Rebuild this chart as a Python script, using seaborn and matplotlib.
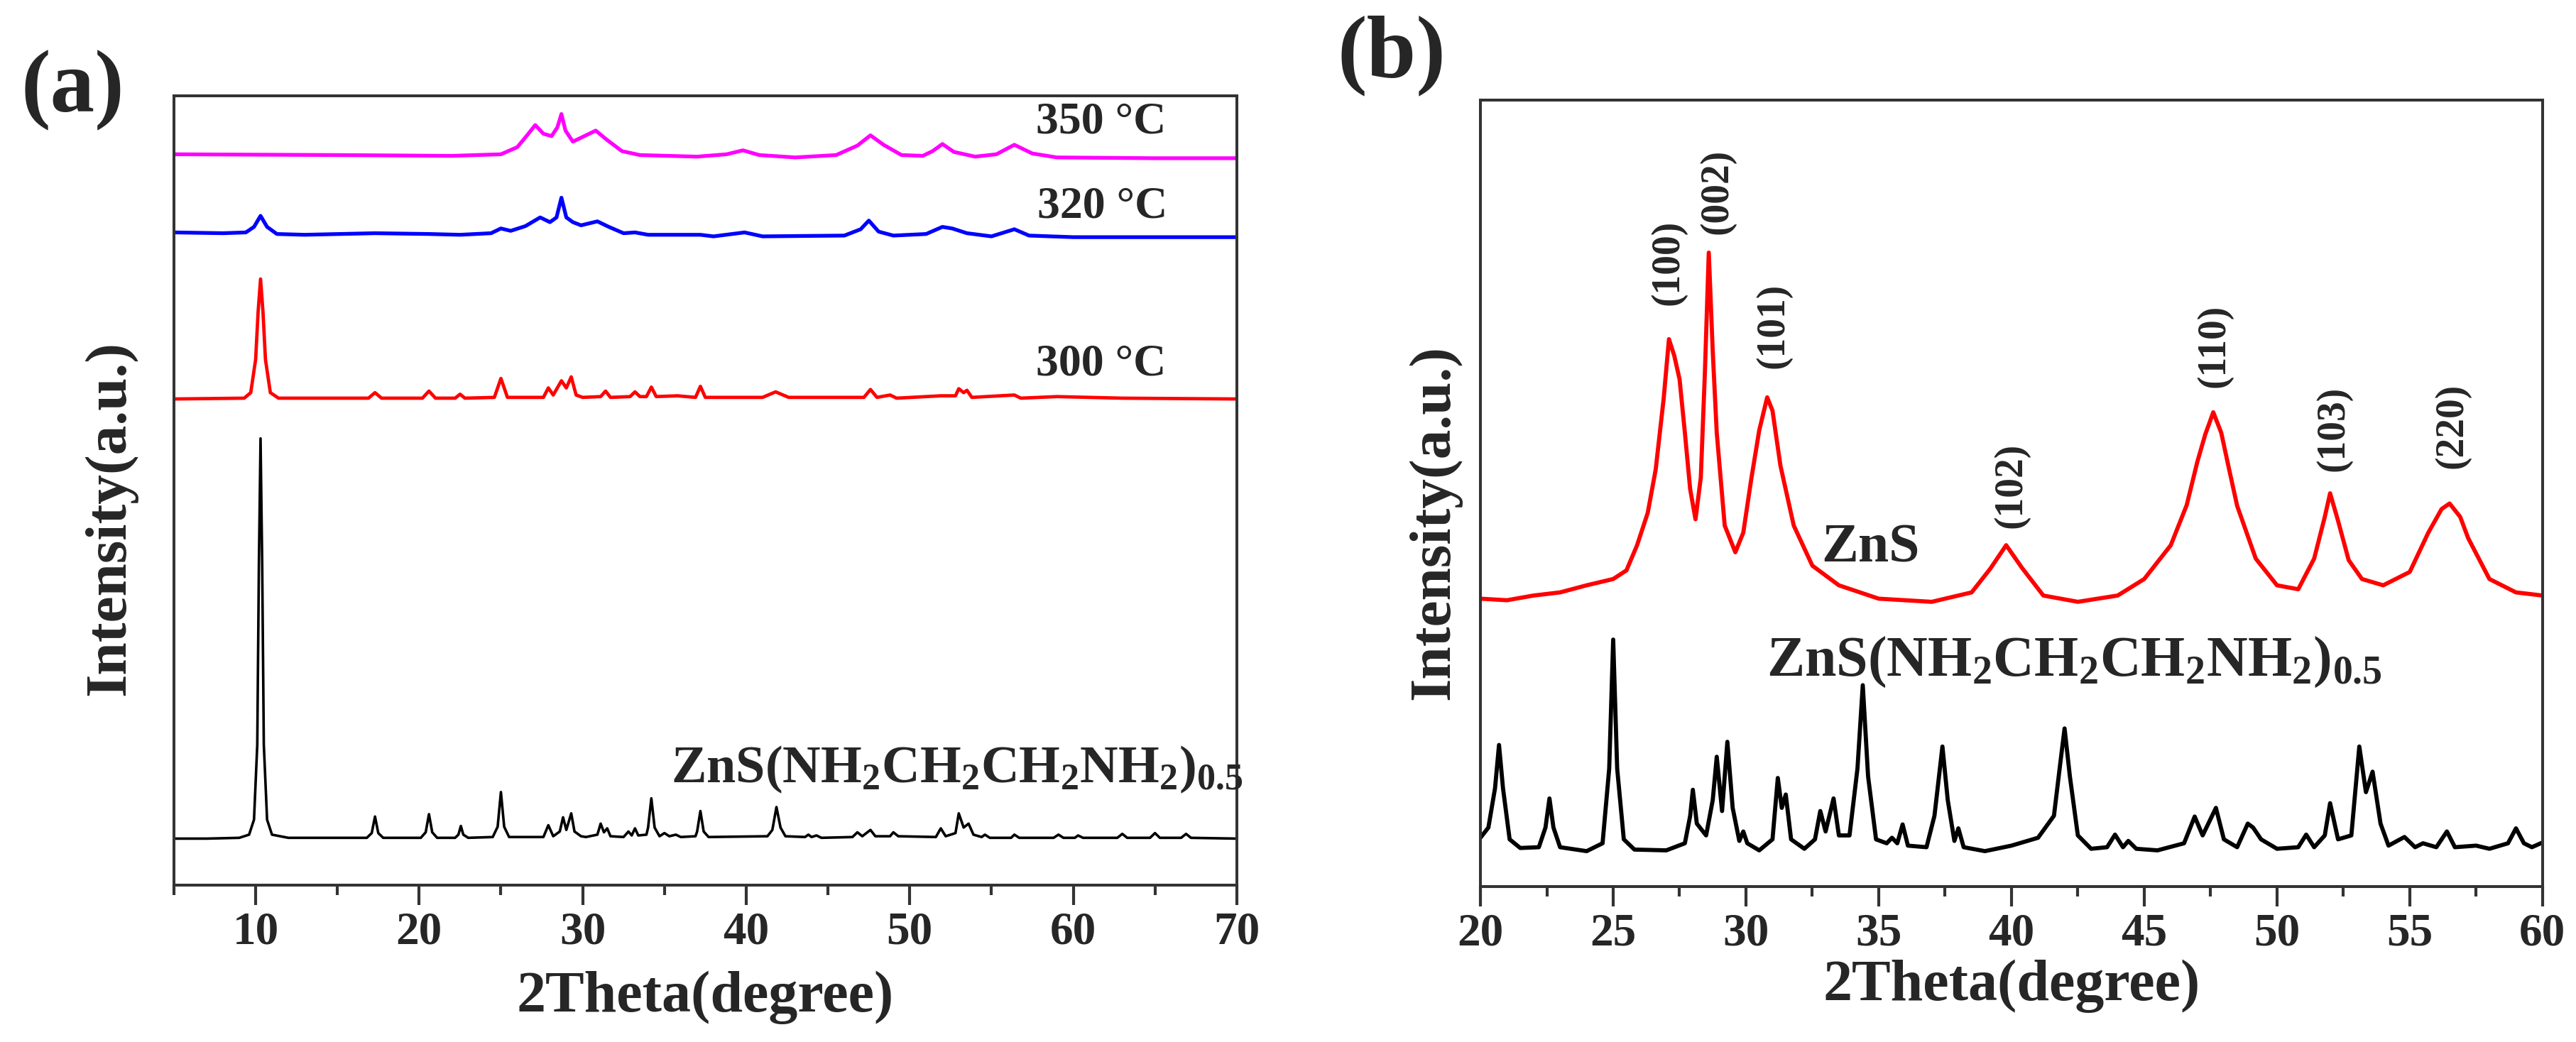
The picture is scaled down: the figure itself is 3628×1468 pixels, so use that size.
import matplotlib
matplotlib.use("Agg")
import matplotlib.pyplot as plt
from matplotlib.ticker import MultipleLocator
import numpy as np
import pandas as pd
import seaborn as sns

# ---------------- data: panel (a) ----------------
# 2theta / relative intensity (percent of axis height)
a_black_x = [5.0, 7.0, 9.0, 9.6, 9.9, 10.1, 10.2, 10.3, 10.4, 10.5, 10.7, 11.0, 12.0,
             16.8, 17.1, 17.3, 17.5, 17.8, 20.1, 20.4, 20.6, 20.8, 21.1, 22.2, 22.4, 22.55, 22.7, 23.0,
             24.5, 24.8, 25.0, 25.2, 25.5, 27.6, 27.9, 28.2, 28.6, 28.8, 29.0, 29.3, 29.5, 29.9,
             30.2, 30.9, 31.1, 31.3, 31.5, 31.7, 32.5, 32.8, 33.0, 33.2, 33.4, 33.9, 34.0, 34.2,
             34.4, 34.7, 35.0, 35.3, 35.7, 36.0, 36.9, 37.0, 37.2, 37.4, 37.7, 41.3, 41.6, 41.85,
             42.1, 42.4, 43.6, 43.8, 44.0, 44.3, 44.6, 46.5, 46.8, 47.1, 47.6, 47.9, 48.8, 49.0,
             49.3, 51.6, 51.9, 52.2, 52.8, 53.0, 53.3, 53.6, 53.9, 54.4, 54.6, 54.9, 56.2, 56.4,
             56.7, 58.8, 59.1, 59.4, 60.1, 60.3, 60.6, 62.7, 63.0, 63.3, 64.7, 65.0, 65.3, 66.6,
             66.9, 67.2, 70.0]
a_black_y = [0.1, 0.1, 0.2, 0.6, 2.5, 12.0, 35.0, 50.8, 35.0, 12.0, 2.5, 0.6, 0.2,
             0.2, 0.8, 2.9, 0.8, 0.2, 0.2, 0.9, 3.2, 0.9, 0.2, 0.2, 0.6, 1.7, 0.6, 0.2,
             0.3, 1.6, 6.0, 1.6, 0.3, 0.3, 1.8, 0.4, 1.0, 2.8, 1.2, 3.3, 1.0, 0.4,
             0.3, 0.6, 2.0, 0.9, 1.4, 0.4, 0.3, 1.0, 0.5, 1.4, 0.5, 0.6, 1.5, 5.2,
             1.5, 0.4, 0.8, 0.4, 0.6, 0.3, 0.4, 1.0, 3.6, 1.0, 0.3, 0.4, 1.2, 4.1,
             1.5, 0.4, 0.3, 0.6, 0.3, 0.5, 0.2, 0.3, 0.9, 0.4, 1.2, 0.4, 0.4, 0.9,
             0.4, 0.3, 1.4, 0.4, 0.8, 3.3, 1.5, 2.0, 0.6, 0.3, 0.6, 0.2, 0.2, 0.6,
             0.2, 0.2, 0.6, 0.2, 0.2, 0.5, 0.2, 0.2, 0.7, 0.2, 0.2, 0.8, 0.2, 0.2,
             0.7, 0.2, 0.1]

a_red_x = [5.0, 9.3, 9.7, 10.0, 10.15, 10.3, 10.45, 10.6, 10.9, 11.4, 16.9, 17.3, 17.7,
           20.2, 20.6, 21.0, 22.2, 22.5, 22.8, 24.6, 25.0, 25.4, 27.6, 27.9, 28.2, 28.7, 29.0,
           29.3, 29.6, 30.0, 31.1, 31.4, 31.7, 32.9, 33.2, 33.5, 33.9, 34.2, 34.5, 35.8, 36.9,
           37.2, 37.5, 41.0, 41.8, 42.6, 47.2, 47.6, 48.0, 48.8, 49.2, 51.9, 52.8, 53.0, 53.3,
           53.5, 53.8, 56.4, 56.8, 59.0, 63.0, 70.0]
a_red_y = [0.0, 0.1, 0.8, 5.0, 11.0, 15.2, 11.0, 5.0, 0.8, 0.1, 0.1, 0.8, 0.1,
           0.1, 1.0, 0.1, 0.1, 0.6, 0.1, 0.2, 2.6, 0.2, 0.2, 1.4, 0.5, 2.3, 1.4,
           2.8, 0.5, 0.2, 0.3, 1.0, 0.2, 0.3, 0.9, 0.3, 0.3, 1.5, 0.3, 0.4, 0.2,
           1.6, 0.2, 0.2, 0.9, 0.2, 0.2, 1.2, 0.2, 0.5, 0.1, 0.4, 0.4, 1.3, 0.8,
           1.1, 0.2, 0.5, 0.1, 0.3, 0.1, 0.0]

a_blue_x = [5.0, 8.0, 9.4, 9.9, 10.3, 10.7, 11.3, 13.0, 17.3, 20.6, 22.5, 24.4, 25.0, 25.6,
            26.5, 27.4, 28.0, 28.4, 28.7, 29.0, 29.4, 29.9, 30.9, 31.6, 32.5, 33.2, 34.0, 37.2,
            38.0, 39.9, 41.0, 46.0, 47.0, 47.5, 48.1, 49.0, 51.0, 52.0, 52.6, 53.5, 55.0, 56.4,
            57.3, 60.0, 70.0]
a_blue_y = [0.7, 0.6, 0.7, 1.4, 2.8, 1.4, 0.5, 0.4, 0.6, 0.5, 0.4, 0.6, 1.2, 0.9,
            1.5, 2.6, 2.0, 2.6, 5.1, 2.6, 2.0, 1.6, 2.1, 1.4, 0.6, 0.7, 0.4, 0.4,
            0.2, 0.7, 0.2, 0.3, 1.1, 2.2, 0.8, 0.3, 0.5, 1.4, 1.2, 0.6, 0.2, 1.1,
            0.3, 0.1, 0.1]

a_mag_x = [5.0, 15.0, 22.0, 25.0, 26.0, 26.6, 27.1, 27.6, 28.1, 28.45, 28.7, 28.95, 29.4,
           30.0, 30.8, 31.5, 32.4, 33.5, 37.0, 38.8, 39.8, 40.8, 43.0, 45.5, 46.8, 47.6, 48.4,
           49.5, 50.8, 51.4, 52.0, 52.7, 54.0, 55.3, 56.4, 57.5, 59.0, 65.0, 70.0]
a_mag_y = [0.6, 0.5, 0.4, 0.6, 1.5, 3.0, 4.3, 3.2, 2.9, 4.0, 5.7, 3.6, 2.2,
           2.8, 3.6, 2.4, 1.0, 0.5, 0.3, 0.6, 1.1, 0.5, 0.2, 0.5, 1.7, 3.0, 1.8,
           0.5, 0.4, 1.0, 1.9, 0.9, 0.3, 0.6, 1.8, 0.7, 0.2, 0.1, 0.1]

a_series = ["ZnS(en)0.5", "300 °C", "320 °C", "350 °C"]
a_offsets = [5.8, 61.6, 82.0, 92.0]
a_colors = ["#000000", "#FF0000", "#0000FF", "#FF00FF"]
a_widths = [2.6, 3.4, 3.8, 3.8]
a_temp_labels = ["300 °C", "320 °C", "350 °C"]
a_temp_pos = [(57.7, 66.0), (57.8, 85.9), (57.7, 96.6)]

# ---------------- data: panel (b) ----------------
b_red_x = [20.0, 21.0, 22.0, 23.0, 24.0, 25.0, 25.5, 25.9, 26.3, 26.6, 26.9, 27.1, 27.3, 27.5,
           27.7, 27.9, 28.1, 28.3, 28.45, 28.6, 28.75, 28.9, 29.2, 29.6, 29.9, 30.2, 30.5, 30.8,
           31.0, 31.3, 31.8, 32.5, 33.5, 35.0, 37.0, 38.5, 39.2, 39.8, 40.4, 41.2, 42.5, 44.0,
           45.0, 46.0, 46.6, 47.0, 47.3, 47.6, 47.9, 48.2, 48.5, 49.2, 50.0, 50.8, 51.4, 51.8,
           52.0, 52.3, 52.7, 53.2, 54.0, 55.0, 55.7, 56.2, 56.5, 56.9, 57.2, 58.0, 59.0, 60.0]
b_red_y = [36.6, 36.4, 37.0, 37.4, 38.3, 39.1, 40.2, 43.4, 47.5, 53.0, 62.0, 69.6, 67.5, 64.5,
           57.7, 50.5, 46.7, 52.0, 65.0, 80.6, 68.0, 57.7, 45.9, 42.5, 45.0, 51.8, 58.0, 62.2,
           60.5, 53.5, 45.9, 40.8, 38.3, 36.6, 36.2, 37.4, 40.4, 43.4, 40.5, 37.0, 36.2, 37.0,
           39.1, 43.4, 48.5, 54.0, 57.5, 60.3, 57.7, 53.0, 48.4, 41.7, 38.3, 37.8, 41.7, 47.0,
           50.0, 46.5, 41.5, 39.1, 38.3, 40.0, 45.0, 48.0, 48.7, 47.0, 44.3, 39.1, 37.4, 37.0]

b_black_x = [20.0, 20.3, 20.55, 20.7, 20.85, 21.1, 21.5, 22.2, 22.45, 22.6, 22.75, 23.0, 24.0,
             24.6, 24.85, 25.0, 25.15, 25.4, 25.8, 27.0, 27.7, 27.9, 28.0, 28.15, 28.5, 28.75,
             28.9, 29.1, 29.3, 29.5, 29.75, 29.9, 30.05, 30.5, 31.0, 31.2, 31.35, 31.5, 31.7,
             32.2, 32.6, 32.8, 33.0, 33.3, 33.5, 33.9, 34.2, 34.4, 34.6, 34.9, 35.3, 35.5, 35.7,
             35.9, 36.1, 36.8, 37.1, 37.4, 37.6, 37.85, 38.0, 38.2, 39.0, 40.0, 41.0, 41.6, 41.85,
             42.0, 42.2, 42.5, 43.0, 43.6, 43.9, 44.2, 44.4, 44.7, 45.5, 46.5, 46.9, 47.2, 47.7,
             48.0, 48.5, 48.9, 49.1, 49.4, 50.0, 50.8, 51.1, 51.4, 51.8, 52.0, 52.3, 52.8, 53.1,
             53.35, 53.6, 53.9, 54.2, 54.8, 55.2, 55.5, 56.0, 56.4, 56.7, 57.5, 58.0, 58.7, 59.0,
             59.3, 59.6, 60.0]
b_black_y = [6.2, 7.5, 12.5, 18.0, 12.5, 6.0, 4.9, 5.0, 7.5, 11.2, 7.5, 5.0, 4.5,
             5.5, 15.0, 31.4, 15.0, 6.0, 4.7, 4.6, 5.5, 9.0, 12.3, 8.0, 6.5, 11.0,
             16.5, 9.6, 18.4, 10.0, 5.8, 7.0, 5.5, 4.6, 6.0, 13.8, 10.0, 11.7, 6.0,
             4.8, 6.0, 9.6, 7.0, 11.2, 6.5, 6.5, 15.0, 25.6, 14.0, 6.0, 5.5, 6.2, 5.5,
             7.9, 5.2, 5.0, 9.0, 17.8, 11.0, 5.8, 7.4, 5.0, 4.5, 5.2, 6.2, 9.0, 16.0,
             20.1, 14.0, 6.5, 4.8, 5.0, 6.6, 5.0, 5.8, 4.8, 4.6, 5.5, 8.9, 6.5, 10.0,
             6.0, 5.0, 8.0, 7.5, 6.0, 4.8, 5.0, 6.6, 5.0, 6.5, 10.6, 6.0, 6.5, 17.8,
             12.0, 14.6, 8.0, 5.2, 6.3, 5.0, 5.5, 5.0, 7.0, 5.0, 5.2, 4.8, 5.5, 7.4,
             5.5, 5.0, 5.6]

b_hkl = ["(100)", "(002)", "(101)", "(102)", "(110)", "(103)", "(220)"]
b_hkl_pos = [(27.08, 79.3), (28.93, 88.4), (31.04, 71.3), (40.0, 51.0),
             (47.64, 68.7), (52.12, 58.2), (56.6, 58.6)]

formula = r"$\mathrm{ZnS(NH_2CH_2CH_2NH_2)_{0.5}}$"

# ---------------- style ----------------
sns.set_theme(style="white")
plt.rcParams["font.family"] = ["Liberation Serif", "DejaVu Serif"]
plt.rcParams["font.weight"] = "bold"
plt.rcParams["axes.labelweight"] = "bold"
plt.rcParams["mathtext.fontset"] = "custom"
plt.rcParams["mathtext.rm"] = "Liberation Serif:bold"
plt.rcParams["mathtext.it"] = "Liberation Serif:bold"
plt.rcParams["mathtext.bf"] = "Liberation Serif:bold"

fig = plt.figure(figsize=(36.28, 14.68), dpi=100)
ax_a = fig.add_axes([0.0675, 0.1505, 0.4126, 0.7575])
ax_b = fig.add_axes([0.5747, 0.1492, 0.4123, 0.7548])

spine_c = "#333333"


def style_axes(ax, xmin, xmax, major, minor, xl_y, yl_x, yl_y):
    ax.set_xlim(xmin, xmax)
    ax.set_ylim(0, 100)
    ax.set_yticks([])
    ax.xaxis.set_major_locator(MultipleLocator(major))
    ax.xaxis.set_minor_locator(MultipleLocator(minor))
    ax.tick_params(axis="x", which="major", direction="out", length=20, width=3,
                   color=spine_c, labelsize=47, pad=6, bottom=True, top=False)
    ax.tick_params(axis="x", which="minor", direction="out", length=10, width=3,
                   color=spine_c, bottom=True, top=False)
    for lab in ax.get_xticklabels():
        lab.set_fontweight("bold")
    for s in ax.spines.values():
        s.set_visible(True)
        s.set_color(spine_c)
        s.set_linewidth(2.9)
    ax.set_xlabel("2Theta(degree)", fontsize=59, fontweight="bold")
    ax.set_ylabel("Intensity(a.u.)", fontsize=60, fontweight="bold")
    ax.xaxis.label.set_va("center")
    ax.yaxis.label.set_va("center")
    ax.xaxis.set_label_coords(0.5, xl_y)
    ax.yaxis.set_label_coords(yl_x, yl_y)
    ax.grid(False)


# panel (a)
a_xs = [a_black_x, a_red_x, a_blue_x, a_mag_x]
a_ys = [a_black_y, a_red_y, a_blue_y, a_mag_y]
for xs, ys, off, col, lw, name in zip(a_xs, a_ys, a_offsets, a_colors, a_widths, a_series):
    df = pd.DataFrame({"theta": xs, "intensity": np.array(ys) + off})
    sns.lineplot(data=df, x="theta", y="intensity", ax=ax_a, color=col,
                 linewidth=lw, errorbar=None, sort=True)
style_axes(ax_a, 5, 70, 10, 5, -0.142, -0.060, 0.465)
for lab, (x, y) in zip(a_temp_labels, a_temp_pos):
    ax_a.text(x, y, lab, fontsize=46, fontweight="bold", ha="left", va="center")
ax_a.text(35.4, 13.0, formula, fontsize=53.5, ha="left", va="baseline")

# panel (b)
df_r = pd.DataFrame({"theta": b_red_x, "intensity": b_red_y})
df_k = pd.DataFrame({"theta": b_black_x, "intensity": b_black_y})
sns.lineplot(data=df_k, x="theta", y="intensity", ax=ax_b, color="#000000",
             linewidth=4.2, errorbar=None)
sns.lineplot(data=df_r, x="theta", y="intensity", ax=ax_b, color="#FF0000",
             linewidth=4.2, errorbar=None)
style_axes(ax_b, 20, 60, 5, 2.5, -0.127, -0.043, 0.463)
for lab, (x, y) in zip(b_hkl, b_hkl_pos):
    ax_b.text(x, y, lab, fontsize=40, fontweight="bold", rotation=90,
              ha="center", va="center")
ax_b.text(34.7, 43.0, "ZnS", fontsize=56, fontweight="bold", ha="center", va="center")
ax_b.text(30.78, 26.8, formula, fontsize=57.5, ha="left", va="baseline")

fig.text(102 / 3628, 1 - 127 / 1468, "(a)", fontsize=90, fontweight="bold",
         ha="center", va="center")
fig.text(1960 / 3628, 1 - 78 / 1468, "(b)", fontsize=90, fontweight="bold",
         ha="center", va="center")

fig.savefig("out.png", dpi=100, facecolor="white")
